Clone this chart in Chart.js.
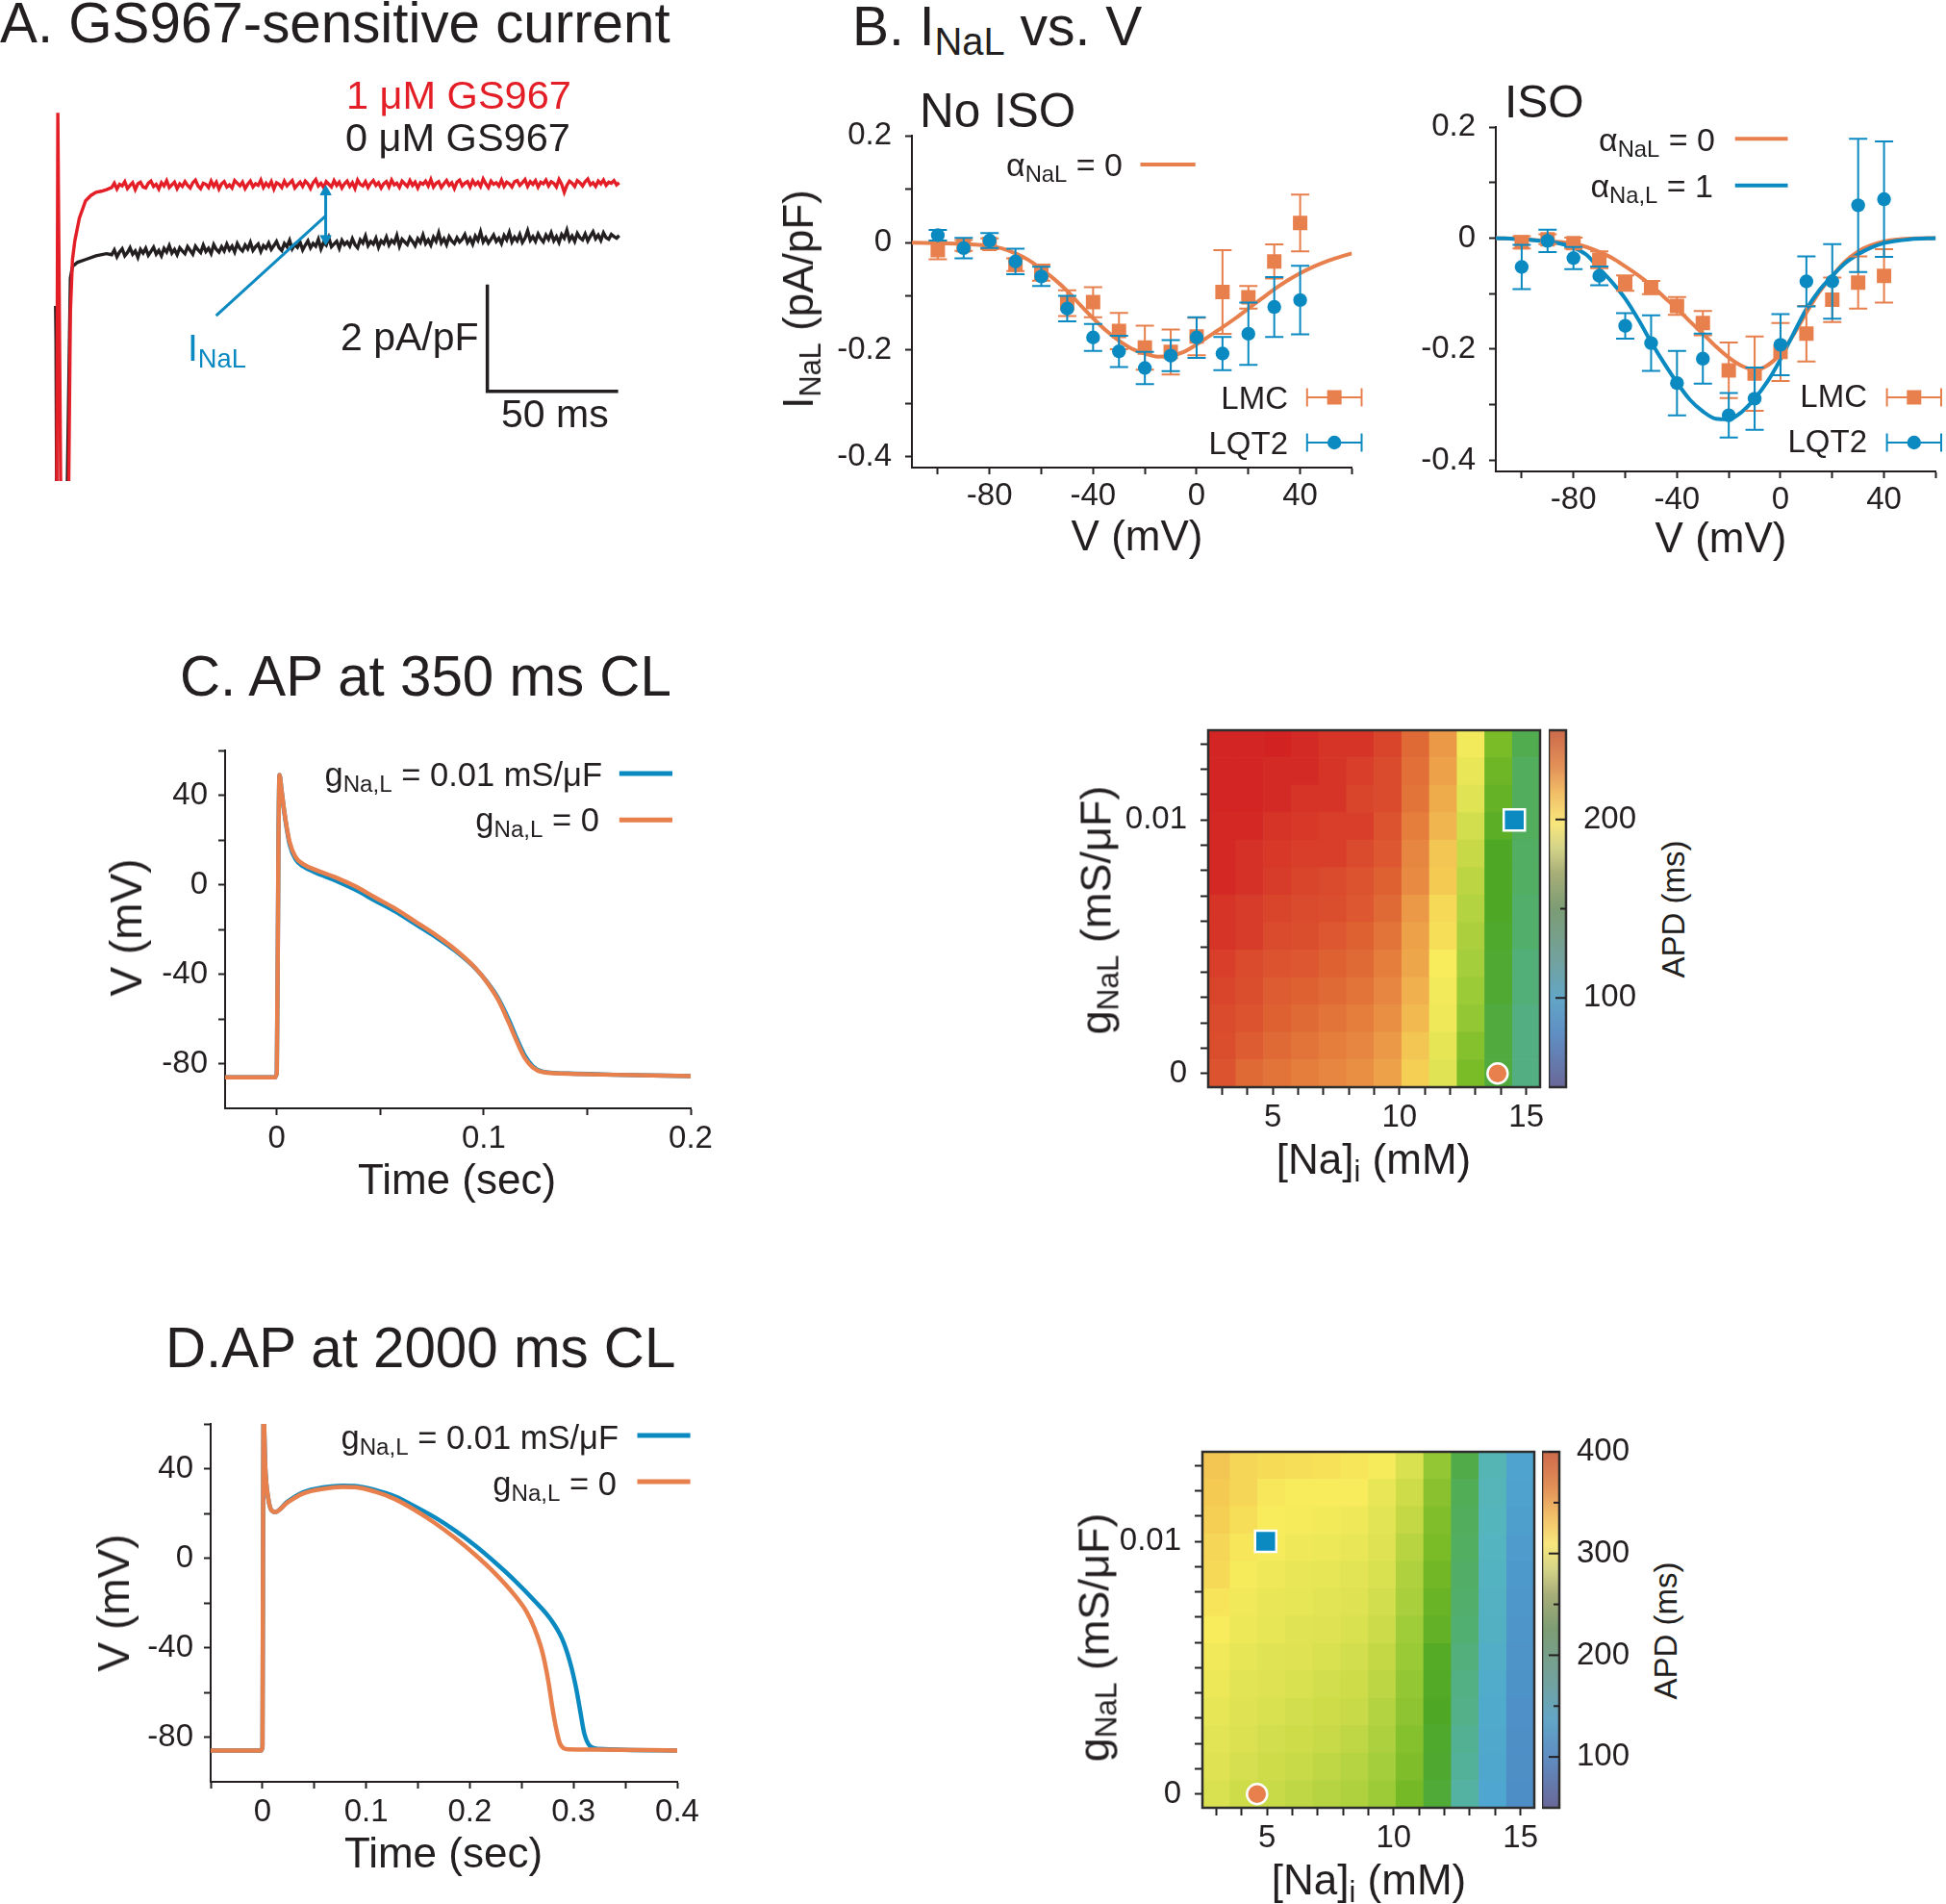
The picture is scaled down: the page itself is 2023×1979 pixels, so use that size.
<!DOCTYPE html>
<html>
<head>
<meta charset="utf-8">
<script src="https://cdn.jsdelivr.net/npm/chart.js@4.4.1/dist/chart.umd.min.js"></script>
<style>
  html, body { margin: 0; padding: 0; background: #fff; }
  #page { position: relative; width: 2023px; height: 1979px; overflow: hidden;
          font-family: 'Liberation Sans', Arial, Helvetica, sans-serif; color: #231f20; }
  .chartbox { position: absolute; }
  .t { position: absolute; white-space: nowrap; line-height: 1; }
  .t sub { font-size: 0.7em; vertical-align: -0.25em; line-height: 0; }
  #keys { position: absolute; left: 0; top: 0; pointer-events: none; }
</style>
</head>
<body>
<div id="page"></div>
<script>
// ---------------- Panel A: GS967-sensitive current (ms, pA/pF relative to 1 uM level)
const redOnsetT = [-1.1, -0.6, 0.7, 3.3, 4.2, 5.0, 5.9, 7.6, 10, 12, 14, 16, 18];
const redOnsetI = [-7, 1.35, -7, -7, -2.4, -1.4, -1.05, -0.63, -0.30, -0.20, -0.14, -0.12, -0.09];
const blackOnsetT = [-1.45, -1.3, -0.95, 2.6, 4.2, 5.0, 7.0, 10, 14, 18];
const blackOnsetI = [-2.27, -2.9, -7, -7, -1.75, -1.53, -1.45, -1.40, -1.33, -1.29];
const steadyT0 = 20, steadyDt = 1;
const redSteady = [
  -0.05, 0.03, -0.08, 0.01, -0.02, 0.06, -0.07, -0.01, 0.04, -0.09, 0.02, 0.05, -0.04, -0.06, 0.03,
  0.07, -0.03, 0.01, -0.08, 0.04, -0.02, 0.08, -0.05, 0.00, 0.05, -0.07, 0.02, -0.03, 0.06, -0.01,
  -0.06, 0.04, 0.09, -0.02, -0.07, 0.03, 0.01, -0.05, 0.07, -0.03, 0.05, -0.08, 0.02, 0.06, -0.04,
  0.00, -0.06, 0.08, 0.03, -0.02, 0.05, -0.07, 0.01, 0.07, -0.04, 0.02, -0.01, 0.09, -0.05, 0.03,
  -0.03, 0.06, -0.08, 0.04, 0.01, -0.05, 0.07, -0.02, 0.03, 0.08, -0.06, 0.00, 0.05, -0.03, 0.07,
  0.02, -0.07, 0.04, 0.10, -0.02, 0.03, -0.05, 0.06, 0.01, -0.04, 0.08, -0.01, 0.05, -0.06, 0.02,
  0.07, -0.03, 0.04, -0.07, 0.09, 0.01, -0.02, 0.06, -0.05, 0.03, 0.08, -0.01, 0.04, -0.06, 0.02,
  0.06, -0.04, 0.09, 0.00, 0.03, -0.05, 0.07, 0.02, -0.03, 0.08, -0.01, 0.05, -0.06, 0.04, 0.01,
  0.07, -0.02, 0.10, -0.04, 0.03, 0.06, -0.05, 0.02, 0.08, -0.01, 0.04, -0.07, 0.05, 0.09, -0.02,
  0.03, 0.06, -0.04, 0.08, 0.00, 0.05, -0.03, 0.11, 0.02, -0.05, 0.07, 0.01, 0.04, -0.02, 0.09,
  -0.03, 0.05, 0.02, -0.04, 0.06, 0.08, -0.01, 0.04, 0.10, -0.03, 0.06, 0.01, 0.08, -0.04, 0.05,
  0.02, 0.09, -0.02, 0.06, 0.03, -0.04, 0.10, 0.01, -0.14, -0.01, 0.07, 0.03, -0.03, 0.08, 0.04,
  -0.02, 0.06, 0.11, 0.00, 0.04, -0.03, 0.07, 0.02, 0.09, -0.01, 0.05, 0.03, 0.08, 0.00, 0.04];
const blackSteady = [
  -1.31, -1.22, -1.35, -1.26, -1.20, -1.33, -1.27, -1.18, -1.30, -1.24, -1.36, -1.21, -1.28, -1.19, -1.32,
  -1.25, -1.17, -1.30, -1.23, -1.33, -1.19, -1.26, -1.14, -1.28, -1.21, -1.31, -1.18, -1.24, -1.29, -1.16,
  -1.23, -1.30, -1.15, -1.22, -1.27, -1.13, -1.25, -1.19, -1.29, -1.12, -1.21, -1.26, -1.16, -1.24, -1.11,
  -1.22, -1.15, -1.26, -1.10, -1.19, -1.24, -1.13, -1.20, -1.08, -1.23, -1.16, -1.11, -1.25, -1.14, -1.19,
  -1.09, -1.21, -1.14, -1.06, -1.18, -1.23, -1.10, -1.16, -1.04, -1.20, -1.12, -1.17, -1.07, -1.22, -1.13,
  -1.05, -1.18, -1.10, -1.15, -1.02, -1.20, -1.08, -1.13, -0.99, -1.16, -1.11, -1.06, -1.19, -1.04, -1.12,
  -1.07, -1.15, -1.01, -1.12, -1.18, -1.03, -1.09, -0.96, -1.14, -1.06, -1.11, -1.00, -1.17, -1.05, -1.10,
  -0.98, -1.13, -1.04, -1.09, -0.95, -1.15, -1.02, -1.07, -1.12, -0.99, -1.06, -1.14, -1.01, -1.08, -0.94,
  -1.10, -1.03, -1.13, -0.98, -1.06, -0.90, -1.09, -1.01, -1.12, -0.97, -1.05, -1.10, -0.99, -1.07, -1.02,
  -0.93, -1.08, -1.00, -1.11, -0.96, -1.04, -0.88, -1.07, -0.99, -1.09, -1.02, -0.94, -1.06, -1.00, -1.10,
  -0.95, -1.03, -0.89, -1.07, -0.98, -1.05, -0.93, -1.08, -1.00, -0.86, -1.04, -0.97, -1.06, -0.92, -1.01,
  -1.07, -0.94, -1.02, -0.90, -1.05, -0.97, -1.08, -0.93, -1.00, -0.85, -1.04, -0.96, -1.06, -0.91, -0.99,
  -1.03, -0.92, -1.05, -0.96, -0.88, -1.01, -0.94, -1.04, -0.90, -0.99, -1.02, -0.93, -0.97, -1.00, -0.95];
const arrowT = 101.8, arrowI = [-0.13, -1.01];
const pointerT = [59.9, 101.8], pointerI = [-2.45, -0.58];
const scaleBar = { t: 163.6, i: -3.87, dt: 50, di: 2 };

// ---------------- Panel B: INaL vs V
const bVolt = [-100, -90, -80, -70, -60, -50, -40, -30, -20, -10, 0, 10, 20, 30, 40];
const noIsoLmc    = [-0.014, -0.005, -0.002, -0.041, -0.056, -0.113, -0.111, -0.165, -0.196, -0.204, -0.175, -0.092, -0.102, -0.035, 0.037];
const noIsoLmcErr = [0.017, 0.010, 0.010, 0.012, 0.015, 0.024, 0.028, 0.034, 0.041, 0.042, 0.035, 0.078, 0.021, 0.032, 0.053];
const noIsoLqt2    = [0.014, -0.010, 0.004, -0.035, -0.063, -0.123, -0.177, -0.203, -0.234, -0.211, -0.177, -0.207, -0.170, -0.120, -0.107];
const noIsoLqt2Err = [0.010, 0.019, 0.014, 0.024, 0.018, 0.024, 0.025, 0.029, 0.030, 0.029, 0.038, 0.031, 0.058, 0.056, 0.064];
const noIsoFitV = [-110, -100, -90, -80, -75, -70, -65, -60, -55, -50, -45, -40, -35, -30, -25, -20, -15, -10, -5, 0, 5, 10, 15, 20, 25, 30, 35, 40, 45, 50, 55, 60];
const noIsoFit  = [0, -0.001, -0.002, -0.006, -0.011, -0.020, -0.032, -0.049, -0.068, -0.090, -0.116, -0.141, -0.164, -0.183, -0.198, -0.207, -0.213, -0.211, -0.204, -0.190, -0.174, -0.158, -0.141, -0.123, -0.105, -0.087, -0.071, -0.057, -0.045, -0.035, -0.027, -0.020];
const isoLmc    = [-0.0075, -0.002, -0.009, -0.039, -0.081, -0.089, -0.122, -0.153, -0.238, -0.244, -0.205, -0.172, -0.111, -0.080, -0.068];
const isoLmcErr = [0.011, 0.009, 0.010, 0.015, 0.014, 0.012, 0.016, 0.022, 0.050, 0.067, 0.052, 0.050, 0.040, 0.047, 0.048];
const isoLqt2    = [-0.052, -0.005, -0.036, -0.068, -0.158, -0.189, -0.261, -0.217, -0.319, -0.289, -0.192, -0.078, -0.078, 0.059, 0.070];
const isoLqt2Err = [0.040, 0.020, 0.020, 0.017, 0.023, 0.050, 0.058, 0.045, 0.040, 0.056, 0.055, 0.045, 0.067, 0.120, 0.104];
const isoFitV  = [-110, -100, -90, -85, -80, -75, -70, -65, -60, -55, -50, -45, -40, -35, -30, -25, -20, -15, -10, -5, 0, 5, 10, 15, 20, 25, 30, 35, 40, 50, 60];
const isoFitA0 = [0, -0.002, -0.005, -0.007, -0.010, -0.016, -0.025, -0.036, -0.051, -0.067, -0.085, -0.106, -0.127, -0.150, -0.172, -0.195, -0.215, -0.230, -0.237, -0.229, -0.208, -0.174, -0.134, -0.097, -0.068, -0.042, -0.024, -0.013, -0.006, -0.001, 0];
const isoFitA1 = [0, -0.002, -0.006, -0.010, -0.017, -0.030, -0.055, -0.080, -0.109, -0.146, -0.187, -0.225, -0.260, -0.291, -0.312, -0.325, -0.326, -0.313, -0.289, -0.258, -0.218, -0.172, -0.128, -0.094, -0.068, -0.045, -0.029, -0.017, -0.009, -0.002, 0];
const bXTicks = [-100, -80, -60, -40, -20, 0, 20, 40, 60];
const bXLabels = [-80, -40, 0, 40];
const bYTicks = [-0.4, -0.3, -0.2, -0.1, 0, 0.1, 0.2];
const bYLabels = [-0.4, -0.2, 0, 0.2];

// ---------------- Panels C, D: action potentials (sec, mV)
const apCT = [-0.025, -0.001, 0, 0.0008, 0.0013, 0.0023, 0.0042, 0.0062, 0.009, 0.0129, 0.0187, 0.0283, 0.038, 0.0476, 0.0572, 0.0669, 0.0765, 0.0861, 0.0958, 0.1016, 0.1073, 0.1122, 0.116, 0.1199, 0.1237, 0.1285, 0.144, 0.1632, 0.2];
const apCgNaL0  = [-86.1, -86.1, -84, 20, 49, 42, 29, 19, 12.4, 9.1, 6.6, 3.3, -0.8, -5.8, -10.7, -16.5, -22.3, -28.9, -37.1, -43.7, -52, -61.9, -70.1, -77.6, -81.7, -83.8, -84.6, -85, -85.6];
const apCgNaL01 = [-86.1, -86.1, -84, 20, 49, 42, 28.5, 18, 11.4, 8.1, 5.4, 1.9, -2.3, -7.2, -12, -17.6, -23.2, -29.5, -37.3, -43.5, -51.3, -60.6, -68.9, -76.5, -81.2, -83.6, -84.5, -85, -85.6];
const apDT0 = [-0.05, -0.0012, 0, 0.0006, 0.001, 0.0027, 0.0054, 0.0085, 0.0123, 0.0238, 0.0392, 0.0585, 0.0777, 0.0892, 0.1085, 0.1277, 0.1469, 0.1662, 0.1854, 0.2046, 0.2238, 0.2431, 0.2546, 0.2623, 0.27, 0.2758, 0.2796, 0.2835, 0.2873, 0.295, 0.32, 0.4];
const apDgNaL0 = [-86, -86, -84, 20, 66, 40.4, 27.2, 21.5, 20.6, 24.8, 28.9, 31, 31.8, 31.7, 29.7, 26.4, 21.5, 15.7, 9.1, 1.7, -6.6, -16.5, -23.9, -31.4, -42.1, -55.3, -66.8, -76.7, -83.3, -85.5, -85.6, -86];
const apDT01 = [-0.05, -0.0012, 0, 0.0006, 0.001, 0.0027, 0.0054, 0.0085, 0.0123, 0.0238, 0.0392, 0.0585, 0.0777, 0.0892, 0.1085, 0.1277, 0.1469, 0.1662, 0.1854, 0.2046, 0.2238, 0.2431, 0.2623, 0.2777, 0.2892, 0.2969, 0.3027, 0.3065, 0.3104, 0.3162, 0.3238, 0.4];
const apDgNaL01 = [-86, -86, -84, 20, 66, 40.4, 27.2, 21.5, 20.6, 25.1, 29.4, 31.6, 32.4, 32.3, 30.5, 27.6, 23.1, 18.2, 12.4, 5.8, -1.7, -9.9, -19, -27.2, -36.3, -47, -58.6, -68.5, -78.4, -84.2, -85.3, -86];
const apYTicks = [-80, -60, -40, -20, 0, 20, 40, 60];
const apYLabels = [-80, -40, 0, 40];
const apCXTicks = [0, 0.05, 0.1, 0.15, 0.2];
const apCXLabels = [0, 0.1, 0.2];
const apDXTicks = [-0.05, 0, 0.05, 0.1, 0.15, 0.2, 0.25, 0.3, 0.35, 0.4];
const apDXLabels = [0, 0.1, 0.2, 0.3, 0.4];

// ---------------- APD maps: rows = gNaL (bottom to top), columns = [Na]i
const naValues = [3, 4.09, 5.18, 6.27, 7.36, 8.45, 9.55, 10.64, 11.73, 12.82, 13.91, 15];
const gValues = [0, 0.00108, 0.00217, 0.00325, 0.00433, 0.00542, 0.0065, 0.00758, 0.00867, 0.00975, 0.01083, 0.01192, 0.013];
const apd350 = [
  [235, 230, 228, 226, 224, 222, 218, 208, 190, 163, 146, 133],
  [236, 233, 230, 228, 226, 224, 220, 210, 192, 166, 146, 133],
  [237, 235, 232, 230, 228, 226, 222, 213, 195, 170, 146, 133],
  [238, 236, 233, 232, 230, 228, 224, 215, 196, 172, 148, 135],
  [240, 237, 235, 234, 232, 230, 226, 217, 198, 174, 148, 135],
  [243, 241, 237, 236, 234, 232, 228, 218, 203, 176, 149, 138],
  [243, 241, 238, 237, 236, 234, 230, 220, 205, 178, 150, 138],
  [247, 244, 241, 238, 237, 235, 232, 223, 209, 180, 150, 140],
  [247, 244, 242, 240, 240, 237, 234, 224, 210, 183, 150, 140],
  [247, 247, 243, 242, 240, 240, 235, 226, 214, 186, 154, 141],
  [248, 248, 246, 243, 243, 238, 237, 228, 216, 190, 157, 141],
  [248, 248, 246, 246, 243, 240, 237, 229, 218, 193, 160, 141],
  [248, 248, 250, 246, 243, 243, 238, 230, 220, 196, 163, 143]];
const apd2000 = [
  [292, 286, 283, 279, 275, 272, 264, 246, 220, 181, 148, 122],
  [294, 290, 286, 283, 279, 275, 267, 250, 222, 185, 150, 124],
  [297, 293, 288, 286, 283, 279, 271, 253, 223, 188, 152, 125],
  [299, 294, 292, 288, 286, 283, 274, 257, 225, 192, 153, 127],
  [302, 297, 294, 292, 288, 286, 278, 260, 227, 194, 155, 130],
  [305, 299, 295, 294, 292, 288, 281, 263, 229, 197, 159, 131],
  [309, 302, 299, 295, 294, 292, 285, 265, 236, 201, 162, 132],
  [314, 305, 300, 299, 297, 294, 288, 269, 239, 204, 164, 134],
  [321, 307, 304, 300, 299, 297, 292, 272, 244, 206, 166, 136],
  [323, 313, 307, 304, 302, 300, 294, 276, 248, 208, 167, 138],
  [326, 318, 309, 307, 306, 304, 297, 281, 251, 209, 169, 141],
  [328, 323, 312, 309, 309, 309, 300, 286, 255, 211, 171, 143],
  [330, 323, 320, 318, 316, 313, 307, 292, 260, 215, 173, 146]];
const apdRange350 = [50, 250], apdRange2000 = [50, 400];
const mark350 = { lqt2: [14.53, 0.01], lmc: [13.87, 0] };
const mark2000 = { lqt2: [4.95, 0.01], lmc: [4.61, 0] };
const naTicks = [3, 4, 5, 6, 7, 8, 9, 10, 11, 12, 13, 14, 15];
const naLabels = [5, 10, 15];
const gTicks = [0, 0.001, 0.002, 0.003, 0.004, 0.005, 0.006, 0.007, 0.008, 0.009, 0.01, 0.011, 0.012, 0.013];
const gLabels = [0, 0.01];
const cb350Ticks = [100, 150, 200], cb350Labels = [100, 200];
const cb2000Ticks = [100, 150, 200, 250, 300, 350, 400], cb2000Labels = [100, 200, 300, 400];

// ---------------- styles
const INK = '#231f20';
const ORANGE = '#e8804e';
const BLUE = '#0b8ac1';
const RED = '#e41e26';
const TICK_FONT = 33;
const cellStops = [
  [0.00, '#5c5a9c'], [0.12, '#4d7fbe'], [0.22, '#4e90c7'], [0.28, '#4fa6d0'], [0.34, '#55b5bd'],
  [0.40, '#53b08e'], [0.45, '#52ae62'], [0.50, '#4ea826'], [0.56, '#76b926'], [0.61, '#9ccb38'],
  [0.66, '#c4d845'], [0.70, '#e0e354'], [0.74, '#f8ec5c'], [0.78, '#f6d656'], [0.82, '#f0b54e'],
  [0.86, '#e98f43'], [0.90, '#e06a35'], [0.94, '#d9452b'], [0.98, '#d42a25'], [1.00, '#d22222']];
const barStops = [
  [0, '#6a6898'], [0.15, '#5f8fc4'], [0.25, '#62a6c6'], [0.35, '#72a2a0'], [0.5, '#7c9c74'],
  [0.6, '#a8ae78'], [0.67, '#d4d488'], [0.74, '#f8e67c'], [0.82, '#f2c068'], [0.9, '#e29058'], [1, '#cc6a4a']];

Chart.defaults.font.family = "'Liberation Sans', Arial, Helvetica, sans-serif";
Chart.defaults.font.size = TICK_FONT;
Chart.defaults.color = INK;
Chart.defaults.plugins.legend.display = false;
Chart.defaults.plugins.tooltip.enabled = false;

const page = document.getElementById('page');
const pts = (xs, ys) => xs.map((x, i) => ({ x: x, y: ys[i] }));
const steadyPts = arr => arr.map((y, i) => ({ x: steadyT0 + i * steadyDt, y: y }));

function rgb(h) { return [1, 3, 5].map(k => parseInt(h.substr(k, 2), 16)); }
function cellColor(t) {
  t = Math.max(0, Math.min(1, t));
  for (let k = 1; k < cellStops.length; k++) {
    if (t <= cellStops[k][0]) {
      const [t0, c0] = cellStops[k - 1], [t1, c1] = cellStops[k];
      const f = (t - t0) / (t1 - t0), a = rgb(c0), b = rgb(c1);
      return 'rgb(' + a.map((v, j) => Math.round(v + (b[j] - v) * f)).join(',') + ')';
    }
  }
  return cellStops[cellStops.length - 1][1];
}

// place a chart so that its chart area lands on area = [left, top, right, bottom]
function makeChart(area, pad, cfg) {
  const [x0, y0, x1, y1] = area;
  const box = document.createElement('div');
  box.className = 'chartbox';
  box.style.width = Math.round(x1 - x0 + pad.l + pad.r) + 'px';
  box.style.height = Math.round(y1 - y0 + pad.t + pad.b) + 'px';
  box.style.left = (x0 - pad.l) + 'px';
  box.style.top = (y0 - pad.t) + 'px';
  const cv = document.createElement('canvas');
  box.appendChild(cv);
  page.appendChild(box);
  cfg.options = Object.assign({ responsive: true, maintainAspectRatio: false, animation: false, devicePixelRatio: 1 }, cfg.options);
  const chart = new Chart(cv, cfg);
  const ca = chart.chartArea;
  box.style.left = (x0 - ca.left) + 'px';
  box.style.top = (y0 - ca.top) + 'px';
  return chart;
}

function axis(pos, min, max, ticks, labels, o) {
  const horiz = pos === 'bottom' || pos === 'top';
  return {
    type: 'linear', position: pos, min: min, max: max, bounds: 'data', offset: false,
    border: { display: o.border !== false, color: INK, width: 2 },
    grid: { display: true, offset: false, drawOnChartArea: false, drawTicks: o.tick > 0, tickLength: o.tick || 0, tickWidth: 2, tickColor: INK },
    ticks: { autoSkip: false, maxRotation: 0, minRotation: 0, padding: o.padding, color: INK, font: { size: TICK_FONT },
             callback: v => labels.includes(v) ? String(v) : '' },
    afterBuildTicks: s => { s.ticks = ticks.map(v => ({ value: v })); },
    afterFit: s => { if (horiz) s.height = o.size; else s.width = o.size; }
  };
}

const errorBars = {
  id: 'errorBars',
  beforeDatasetDraw(chart, args) {
    const ds = chart.data.datasets[args.index];
    if (!ds.errors) return;
    const xs = chart.scales[args.meta.xAxisID], ys = chart.scales[args.meta.yAxisID], ctx = chart.ctx;
    ctx.save();
    ctx.strokeStyle = ds.pointBackgroundColor;
    ctx.lineWidth = 2;
    ds.data.forEach((p, i) => {
      const x = xs.getPixelForValue(p.x);
      const ya = ys.getPixelForValue(p.y + ds.errors[i]), yb = ys.getPixelForValue(p.y - ds.errors[i]);
      ctx.beginPath();
      ctx.moveTo(x, ya); ctx.lineTo(x, yb);
      ctx.moveTo(x - 9.5, ya); ctx.lineTo(x + 9.5, ya);
      ctx.moveTo(x - 9.5, yb); ctx.lineTo(x + 9.5, yb);
      ctx.stroke();
    });
    ctx.restore();
  }
};

const frame = {
  id: 'frame',
  afterDatasetsDraw(chart) {
    const { ctx, chartArea: a } = chart;
    ctx.save();
    ctx.strokeStyle = '#2e2e2e';
    ctx.lineWidth = 2.5;
    ctx.strokeRect(a.left, a.top, a.right - a.left, a.bottom - a.top);
    ctx.restore();
  }
};

const innerTicks = {
  id: 'innerTicks',
  afterDatasetsDraw(chart) {
    const s = chart.scales.y, a = chart.chartArea, ctx = chart.ctx;
    ctx.save();
    ctx.strokeStyle = INK;
    ctx.lineWidth = 2;
    s.ticks.forEach(t => {
      const y = s.getPixelForValue(t.value), len = t.label ? 11 : 6;
      ctx.beginPath(); ctx.moveTo(a.right - len, y); ctx.lineTo(a.right, y); ctx.stroke();
    });
    ctx.restore();
  }
};

// ---------------- Panel A
makeChart([40, 100, 660, 500], { l: 0, r: 0, t: 0, b: 0 }, {
  type: 'scatter',
  data: { datasets: [
    { data: pts(pointerT, pointerI), showLine: true, borderColor: BLUE, borderWidth: 3, pointRadius: 0 },
    { data: [{ x: arrowT, y: arrowI[0] }, { x: arrowT, y: arrowI[1] }], showLine: true, borderColor: BLUE, borderWidth: 3,
      pointStyle: 'triangle', pointRadius: 6.5, pointRotation: c => c.dataIndex ? 180 : 0,
      pointBackgroundColor: BLUE, pointBorderColor: BLUE, pointBorderWidth: 1 },
    { data: pts(redOnsetT, redOnsetI).concat(steadyPts(redSteady)), showLine: true, borderColor: RED, borderWidth: 3.4, pointRadius: 0 },
    { data: pts(blackOnsetT, blackOnsetI).concat(steadyPts(blackSteady)), showLine: true, borderColor: INK, borderWidth: 3.4, pointRadius: 0 },
    { data: [{ x: scaleBar.t, y: scaleBar.i + scaleBar.di }, { x: scaleBar.t, y: scaleBar.i }, { x: scaleBar.t + scaleBar.dt, y: scaleBar.i }],
      showLine: true, borderColor: INK, borderWidth: 3.5, pointRadius: 0 }
  ] },
  options: {
    layout: { padding: 0, autoPadding: false },
    scales: { x: { type: 'linear', display: false, min: -8, max: 220 }, y: { type: 'linear', display: false, min: -5.55, max: 1.66 } }
  }
});

// ---------------- Panel B
function ivPanel(area, series, fits) {
  const datasets = [];
  series.forEach(s => datasets.push({
    data: pts(bVolt, s.y), errors: s.err, pointStyle: s.style, pointRadius: s.r,
    pointBackgroundColor: s.color, pointBorderColor: s.color, pointBorderWidth: 0
  }));
  fits.forEach(f => datasets.push({
    data: pts(f.x, f.y), showLine: true, borderColor: f.color, borderWidth: 4, pointRadius: 0, cubicInterpolationMode: 'monotone'
  }));
  return makeChart(area, { l: 110, r: 2, t: 50, b: 60 }, {
    type: 'scatter',
    data: { datasets: datasets },
    options: {
      layout: { padding: { top: 50, right: 2, left: 0, bottom: 0 } },
      scales: {
        x: axis('bottom', -110, 60, bXTicks, bXLabels, { tick: 7, padding: 3, size: 60 }),
        y: axis('left', -0.42, 0.2, bYTicks, bYLabels, { tick: 7, padding: 14, size: 110 })
      }
    },
    plugins: [errorBars]
  });
}
ivPanel([948.4, 141, 1414.7, 486.1], [
  { y: noIsoLqt2, err: noIsoLqt2Err, style: 'circle', r: 7.2, color: BLUE },
  { y: noIsoLmc, err: noIsoLmcErr, style: 'rect', r: 10.6, color: ORANGE }
], [{ x: noIsoFitV, y: noIsoFit, color: ORANGE }]);
ivPanel([1555.2, 131.7, 2021, 489.3], [
  { y: isoLqt2, err: isoLqt2Err, style: 'circle', r: 7.2, color: BLUE },
  { y: isoLmc, err: isoLmcErr, style: 'rect', r: 10.6, color: ORANGE }
], [{ x: isoFitV, y: isoFitA1, color: BLUE }, { x: isoFitV, y: isoFitA0, color: ORANGE }]);

// ---------------- Panels C, D
function apPanel(area, xMin, xMax, xTicks, xLabels, orange, blue) {
  return makeChart(area, { l: 100, r: 40, t: 50, b: 70 }, {
    type: 'scatter',
    data: { datasets: [
      { data: orange, showLine: true, borderColor: ORANGE, borderWidth: 4.5, pointRadius: 0, cubicInterpolationMode: 'monotone' },
      { data: blue, showLine: true, borderColor: BLUE, borderWidth: 4.5, pointRadius: 0, cubicInterpolationMode: 'monotone' }
    ] },
    options: {
      layout: { padding: { top: 50, right: 40, left: 0, bottom: 0 } },
      scales: {
        x: axis('bottom', xMin, xMax, xTicks, xLabels, { tick: 7, padding: 5, size: 70 }),
        y: axis('left', -100, 60, apYTicks, apYLabels, { tick: 7, padding: 11, size: 100 })
      }
    }
  });
}
apPanel([233.5, 780.4, 717.6, 1152.3], -0.025, 0.2, apCXTicks, apCXLabels, pts(apCT, apCgNaL0), pts(apCT, apCgNaL01));
apPanel([219.4, 1480, 704.4, 1852.3], -0.05, 0.4, apDXTicks, apDXLabels, pts(apDT0, apDgNaL0), pts(apDT01, apDgNaL01));

// ---------------- APD maps
function apdMap(area, apd, range, mark) {
  const n = naValues.length, step = (naValues[n - 1] - naValues[0]) / (n - 1);
  const xMin = naValues[0] - step / 2, xMax = naValues[n - 1] + step / 2;
  const bounds = gValues.map((g, i) => {
    const prev = i > 0 ? gValues[i - 1] : 2 * g - gValues[1];
    const next = i < gValues.length - 1 ? gValues[i + 1] : 2 * g - gValues[i - 1];
    return [(g + prev) / 2, (g + next) / 2];
  });
  const datasets = [
    { type: 'scatter', xAxisID: 'xt', yAxisID: 'y', data: [{ x: mark.lqt2[0], y: mark.lqt2[1] }],
      pointStyle: 'rect', pointRadius: 15.6, pointBackgroundColor: BLUE, pointBorderColor: '#fff', pointBorderWidth: 2.5 },
    { type: 'scatter', xAxisID: 'xt', yAxisID: 'y', data: [{ x: mark.lmc[0], y: mark.lmc[1] }],
      pointStyle: 'circle', pointRadius: 10.5, pointBackgroundColor: ORANGE, pointBorderColor: '#fff', pointBorderWidth: 2.5 }
  ];
  apd.forEach((row, i) => datasets.push({
    type: 'bar', xAxisID: 'x', yAxisID: 'y',
    data: row.map(() => bounds[i]),
    backgroundColor: row.map(v => cellColor((v - range[0]) / (range[1] - range[0]))),
    borderWidth: 0, grouped: false, barPercentage: 1, categoryPercentage: 1
  }));
  return makeChart(area, { l: 110, r: 12, t: 50, b: 60 }, {
    type: 'bar',
    data: { labels: naValues, datasets: datasets },
    options: {
      layout: { padding: { top: 50, right: 12, left: 0, bottom: 0 }, autoPadding: false },
      scales: {
        x: { type: 'category', display: false, offset: true },
        xt: axis('bottom', xMin, xMax, naTicks, naLabels, { tick: 8, padding: 4, size: 60, border: false }),
        y: axis('left', bounds[0][0], bounds[bounds.length - 1][1], gTicks, gLabels, { tick: 8, padding: 14, size: 110, border: false })
      }
    },
    plugins: [frame]
  });
}
apdMap([1256.3, 759, 1601.4, 1130], apd350, apdRange350, mark350);
apdMap([1249.6, 1509.3, 1594.3, 1879], apd2000, apdRange2000, mark2000);

function colorBar(area, range, ticks, labels) {
  return makeChart(area, { l: 0, r: 90, t: 50, b: 50 }, {
    type: 'bar',
    data: { labels: [''], datasets: [{
      data: [[range[0], range[1]]], borderWidth: 0, barPercentage: 1, categoryPercentage: 1,
      backgroundColor: c => {
        const a = c.chart.chartArea;
        if (!a) return '#999';
        const g = c.chart.ctx.createLinearGradient(0, a.bottom, 0, a.top);
        barStops.forEach(s => g.addColorStop(s[0], s[1]));
        return g;
      }
    }] },
    options: {
      layout: { padding: { top: 50, bottom: 50, left: 0, right: 0 }, autoPadding: false },
      scales: {
        x: { type: 'category', display: false },
        y: axis('right', range[0], range[1], ticks, labels, { tick: 0, padding: 18, size: 90, border: false })
      }
    },
    plugins: [frame, innerTicks]
  });
}
colorBar([1610, 759, 1628, 1130], apdRange350, cb350Ticks, cb350Labels);
colorBar([1603, 1509.3, 1621, 1879], apdRange2000, cb2000Ticks, cb2000Labels);

// ---------------- text
function label(html, x, y, size, align, color) {
  const d = document.createElement('div');
  d.className = 't';
  d.innerHTML = html;
  d.style.fontSize = size + 'px';
  d.style.left = x + 'px';
  d.style.top = (y - 0.8465 * size) + 'px';
  if (color) d.style.color = color;
  d.style.transform = 'translateX(' + (align === 'center' ? '-50%' : align === 'right' ? '-100%' : '0') + ')';
  page.appendChild(d);
}
function vlabel(html, cx, cy, size) {
  const d = document.createElement('div');
  d.className = 't';
  d.innerHTML = html;
  d.style.fontSize = size + 'px';
  d.style.left = cx + 'px';
  d.style.top = cy + 'px';
  d.style.transform = 'translate(-50%,-50%) rotate(-90deg)';
  page.appendChild(d);
}

label('A. GS967-sensitive current', 0, 44, 58.3, 'left');
label('1 μM GS967', 360, 113, 41.5, 'left', RED);
label('0 μM GS967', 359, 157, 41.5, 'left');
label('I<sub>NaL</sub>', 195, 375, 39, 'left', BLUE);
label('2 pA/pF', 354, 365, 41, 'left');
label('50 ms', 521, 445, 41, 'left');

label('B. I<sub>NaL</sub> vs. V', 886, 47, 57, 'left');
label('No ISO', 956, 132, 49.5, 'left');
label('ISO', 1564, 123, 48, 'left');
label('α<sub>NaL</sub> = 0', 1167, 183, 34, 'right');
label('LMC', 1339, 425, 33, 'right');
label('LQT2', 1339, 472, 33, 'right');
label('α<sub>NaL</sub> = 0', 1783, 157, 34, 'right');
label('α<sub>Na,L</sub> = 1', 1781, 205, 34, 'right');
label('LMC', 1941, 423, 33, 'right');
label('LQT2', 1941, 470, 33, 'right');
vlabel('I<sub>NaL</sub> (pA/pF)', 830, 311, 44);
label('V (mV)', 1182, 572, 44, 'center');
label('V (mV)', 1789, 574, 44, 'center');

label('C. AP at 350 ms CL', 187, 723, 58.3, 'left');
vlabel('V (mV)', 131, 964, 46);
label('Time (sec)', 475, 1241, 44, 'center');
label('g<sub>Na,L</sub> = 0.01 mS/μF', 626, 817, 34.5, 'right');
label('g<sub>Na,L</sub> = 0', 623, 864, 34.5, 'right');

label('D.AP at 2000 ms CL', 172, 1421, 58.3, 'left');
vlabel('V (mV)', 118, 1666, 46);
label('Time (sec)', 461, 1941, 44, 'center');
label('g<sub>Na,L</sub> = 0.01 mS/μF', 643, 1506, 34.5, 'right');
label('g<sub>Na,L</sub> = 0', 641, 1554, 34.5, 'right');

vlabel('g<sub>NaL</sub> (mS/μF)', 1139, 946, 45);
label('[Na]<sub>i</sub> (mM)', 1428, 1220, 44, 'center');
vlabel('APD (ms)', 1739, 945, 33);
vlabel('g<sub>NaL</sub> (mS/μF)', 1137, 1702, 45);
label('[Na]<sub>i</sub> (mM)', 1423, 1969, 44, 'center');
vlabel('APD (ms)', 1731, 1695, 33);

// ---------------- legend keys
const keys = [];
function kLine(x1, y1, x2, y2, c, w) {
  keys.push('<line x1="' + x1 + '" y1="' + y1 + '" x2="' + x2 + '" y2="' + y2 + '" stroke="' + c + '" stroke-width="' + w + '"/>');
}
function kErr(x1, x2, y, c, shape) {
  kLine(x1, y, x2, y, c, 2);
  kLine(x1, y - 9.5, x1, y + 9.5, c, 2);
  kLine(x2, y - 9.5, x2, y + 9.5, c, 2);
  const cx = (x1 + x2) / 2;
  keys.push(shape === 'rect'
    ? '<rect x="' + (cx - 7.5) + '" y="' + (y - 7.5) + '" width="15" height="15" fill="' + c + '"/>'
    : '<circle cx="' + cx + '" cy="' + y + '" r="7.2" fill="' + c + '"/>');
}
kLine(1185.5, 171, 1242.7, 171, ORANGE, 4);
kErr(1358.8, 1415.5, 413, ORANGE, 'rect');
kErr(1358.8, 1415.5, 460, BLUE, 'circle');
kLine(1803.7, 144.3, 1858.5, 144.3, ORANGE, 4);
kLine(1803.7, 192.7, 1858.5, 192.7, BLUE, 4);
kErr(1961.6, 2018, 413, ORANGE, 'rect');
kErr(1961.6, 2018, 460, BLUE, 'circle');
kLine(643.8, 804, 699, 804, BLUE, 5);
kLine(643.8, 852.3, 699, 852.3, ORANGE, 5);
kLine(662.5, 1492, 717.6, 1492, BLUE, 5);
kLine(662.5, 1540, 717.6, 1540, ORANGE, 5);
page.insertAdjacentHTML('beforeend',
  '<svg id="keys" width="2023" height="1979" xmlns="http://www.w3.org/2000/svg">' + keys.join('') + '</svg>');
</script>
</body>
</html>
